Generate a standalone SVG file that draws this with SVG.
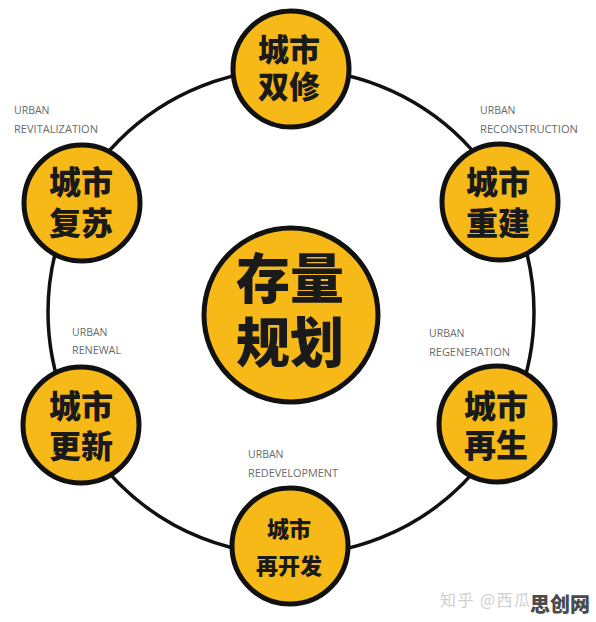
<svg xmlns="http://www.w3.org/2000/svg" width="596" height="622" viewBox="0 0 596 622">
<style>
.node{fill:#F7B918;stroke:#111;stroke-width:5}
.ring{fill:none;stroke:#111;stroke-width:3.5}
.t{font-family:"Noto Sans CJK SC","Noto Sans",sans-serif;font-weight:900;fill:#1a1a1a;text-anchor:middle}
.en{font-family:"Open Sans","Liberation Sans",sans-serif;font-size:10.5px;fill:#6a6a6a}
</style>
<rect width="596" height="622" fill="#fff"/>
<g id="connectors">
<circle class="ring" cx="291" cy="312" r="243"/>
</g>
<g id="labels">
<text class="en" x="14" y="114">URBAN<tspan x="14" y="133" textLength="84" lengthAdjust="spacingAndGlyphs">REVITALIZATION</tspan></text>
<text class="en" x="480" y="114">URBAN<tspan x="480" y="133" textLength="98" lengthAdjust="spacingAndGlyphs">RECONSTRUCTION</tspan></text>
<text class="en" x="72" y="336">URBAN<tspan x="72" y="354" textLength="49" lengthAdjust="spacingAndGlyphs">RENEWAL</tspan></text>
<text class="en" x="429" y="337">URBAN<tspan x="429" y="356" textLength="81" lengthAdjust="spacingAndGlyphs">REGENERATION</tspan></text>
<text class="en" x="248" y="458">URBAN<tspan x="248" y="477" textLength="90" lengthAdjust="spacingAndGlyphs">REDEVELOPMENT</tspan></text>
</g>
<g id="node-center">
<circle class="node" cx="291" cy="315" r="87"/>
<text class="t" font-size="54"><tspan x="290" y="299">存量</tspan><tspan x="290" y="363">规划</tspan></text>
</g>
<g id="node-top">
<circle class="node" cx="291" cy="69" r="58"/>
<text class="t" font-size="31"><tspan x="289" y="61">城市</tspan><tspan x="289" y="98">双修</tspan></text>
</g>
<g id="node-top-left">
<circle class="node" cx="82" cy="203" r="58"/>
<text class="t" font-size="32"><tspan x="81" y="194">城市</tspan><tspan x="81" y="235">复苏</tspan></text>
</g>
<g id="node-top-right">
<circle class="node" cx="500" cy="202" r="58"/>
<text class="t" font-size="32"><tspan x="498" y="194">城市</tspan><tspan x="498" y="235">重建</tspan></text>
</g>
<g id="node-bottom-left">
<circle class="node" cx="81" cy="425" r="58"/>
<text class="t" font-size="32"><tspan x="81" y="418">城市</tspan><tspan x="81" y="458">更新</tspan></text>
</g>
<g id="node-bottom-right">
<circle class="node" cx="497" cy="424" r="58"/>
<text class="t" font-size="32"><tspan x="496" y="418">城市</tspan><tspan x="496" y="457">再生</tspan></text>
</g>
<g id="node-bottom">
<circle class="node" cx="290" cy="546" r="58"/>
<text class="t" font-size="22"><tspan x="289" y="537">城市</tspan><tspan x="289" y="574">再开发</tspan></text>
</g>
<g id="watermark">
<text x="440" y="606" font-family="Noto Sans CJK SC,sans-serif" font-size="16" fill="#cfcfcf" textLength="90" lengthAdjust="spacing">知乎 @西瓜</text>
<text x="530" y="612" font-family="Noto Sans CJK SC,sans-serif" font-weight="900" font-size="20" fill="#4a4a4a">思创网</text>
</g>
</svg>
